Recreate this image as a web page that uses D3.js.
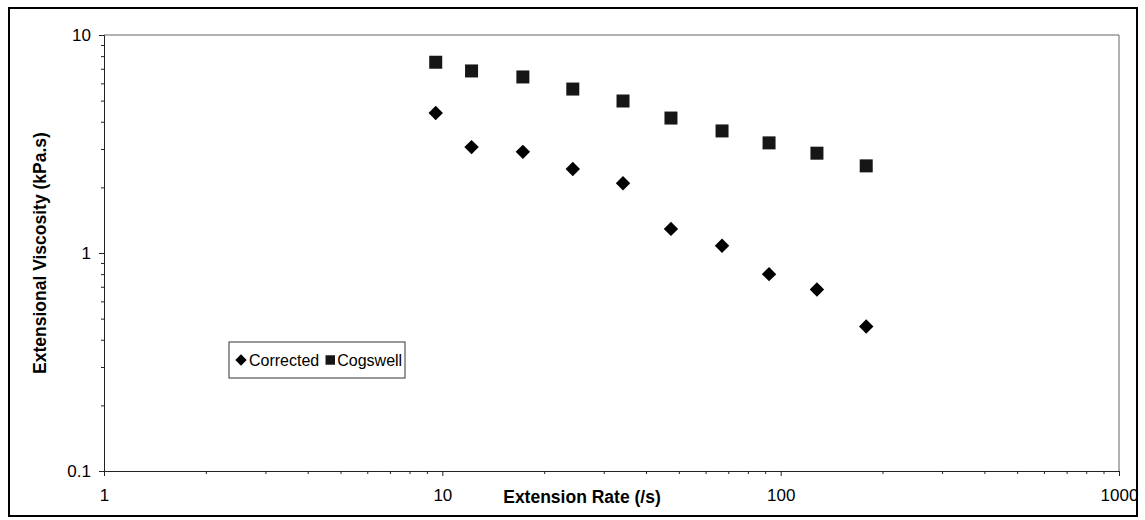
<!DOCTYPE html>
<html>
<head>
<meta charset="utf-8">
<script src="https://cdn.jsdelivr.net/npm/d3@7"></script>
<style>
  html, body { margin: 0; padding: 0; background: #fff; }
  svg { display: block; font-family: "Liberation Sans", Arial, sans-serif; }
</style>
</head>
<body>
<svg id="chart" width="1145" height="520"></svg>
<script>
// Extension rate (1/s) at which each measurement was taken
const extensionRate = [9.56, 12.2, 17.3, 24.3, 34.2, 47.4, 67.1, 92.4, 128, 179];
// Extensional viscosity (kPa.s), corrected analysis
const corrected = [4.39, 3.06, 2.91, 2.43, 2.09, 1.29, 1.08, 0.80, 0.68, 0.46];
// Extensional viscosity (kPa.s), Cogswell analysis
const cogswell = [7.50, 6.84, 6.42, 5.65, 4.98, 4.16, 3.63, 3.20, 2.87, 2.51];

const xTicks = [1, 10, 100, 1000];
const yTicks = [0.1, 1, 10];
const seriesNames = ["Corrected", "Cogswell"];

const svg = d3.select("#chart");

// outer frame
svg.append("rect")
  .attr("x", 9).attr("y", 8).attr("width", 1128).attr("height", 508)
  .attr("fill", "none").attr("stroke", "#000").attr("stroke-width", 2);

const x = d3.scaleLog().domain([1, 1000]).range([104, 1119]);
const y = d3.scaleLog().domain([0.1, 10]).range([471, 35]);

// plot area top/right edges
svg.append("path")
  .attr("d", `M${x(1)},${y(10)}H${x(1000)}V${y(0.1)}`)
  .attr("fill", "none").attr("stroke", "#666").attr("stroke-width", 1);

// minor tick values for each decade
const minorX = [];
[1, 10, 100].forEach(d => { for (let k = 2; k <= 9; k++) minorX.push(d * k); });
const minorY = [];
[0.1, 1].forEach(d => { for (let k = 2; k <= 9; k++) minorY.push(+(d * k).toFixed(2)); });

// x axis
svg.append("g").attr("class", "axis").attr("transform", `translate(0,${y(0.1)})`)
  .call(d3.axisBottom(x).tickValues(xTicks).tickFormat(d3.format("d")).tickSize(5).tickPadding(13));
svg.append("g").attr("transform", `translate(0,${y(0.1)})`)
  .call(d3.axisBottom(x).tickValues(minorX).tickFormat("").tickSize(3))
  .select(".domain").remove();

// y axis
svg.append("g").attr("class", "axis").attr("transform", `translate(${x(1)},0)`)
  .call(d3.axisLeft(y).tickValues(yTicks).tickFormat(d => d < 1 ? "0.1" : d3.format("d")(d)).tickSize(5).tickPadding(8));
svg.append("g").attr("transform", `translate(${x(1)},0)`)
  .call(d3.axisLeft(y).tickValues(minorY).tickFormat("").tickSize(3))
  .select(".domain").remove();

svg.selectAll(".tick line, .domain").attr("stroke", "#222");
svg.selectAll("g.axis")
  .attr("font-family", "Liberation Sans, Arial, sans-serif")
  .attr("font-size", 17);
svg.selectAll("g.axis .tick text").attr("fill", "#000");

// axis titles
svg.append("text")
  .attr("x", 582).attr("y", 503)
  .attr("text-anchor", "middle")
  .attr("font-size", 17.5).attr("font-weight", "bold")
  .text("Extension Rate (/s)");

svg.append("text")
  .attr("transform", `translate(46,${(y(0.1) + y(10)) / 2}) rotate(-90)`)
  .attr("text-anchor", "middle")
  .attr("font-size", 17.5).attr("font-weight", "bold")
  .text("Extensional Viscosity (kPa.s)");

// markers
const diamond = d3.symbol().type(d3.symbolSquare).size(104);
const square = d3.symbol().type(d3.symbolSquare).size(169);

svg.append("g").selectAll("path")
  .data(extensionRate.map((r, i) => [r, cogswell[i]]))
  .join("path")
  .attr("d", square)
  .attr("transform", d => `translate(${x(d[0])},${y(d[1])})`)
  .attr("fill", "#161616");

svg.append("g").selectAll("path")
  .data(extensionRate.map((r, i) => [r, corrected[i]]))
  .join("path")
  .attr("d", diamond)
  .attr("transform", d => `translate(${x(d[0])},${y(d[1])}) rotate(45)`)
  .attr("fill", "#000");

// legend
const legend = svg.append("g").attr("transform", "translate(229,342)");
legend.append("rect")
  .attr("width", 176).attr("height", 36)
  .attr("fill", "#fff").attr("stroke", "#333").attr("stroke-width", 1);
legend.append("path").attr("d", d3.symbol().type(d3.symbolSquare).size(64)())
  .attr("transform", "translate(12,18) rotate(45)").attr("fill", "#000");
const t1 = legend.append("text").attr("x", 20).attr("y", 24).attr("font-size", 16).text(seriesNames[0]);
const w1 = t1.node().getComputedTextLength();
legend.append("path").attr("d", d3.symbol().type(d3.symbolSquare).size(90)())
  .attr("transform", `translate(${20 + w1 + 11},18)`).attr("fill", "#161616");
legend.append("text").attr("x", 20 + w1 + 18).attr("y", 24).attr("font-size", 16).text(seriesNames[1]);
</script>
</body>
</html>
